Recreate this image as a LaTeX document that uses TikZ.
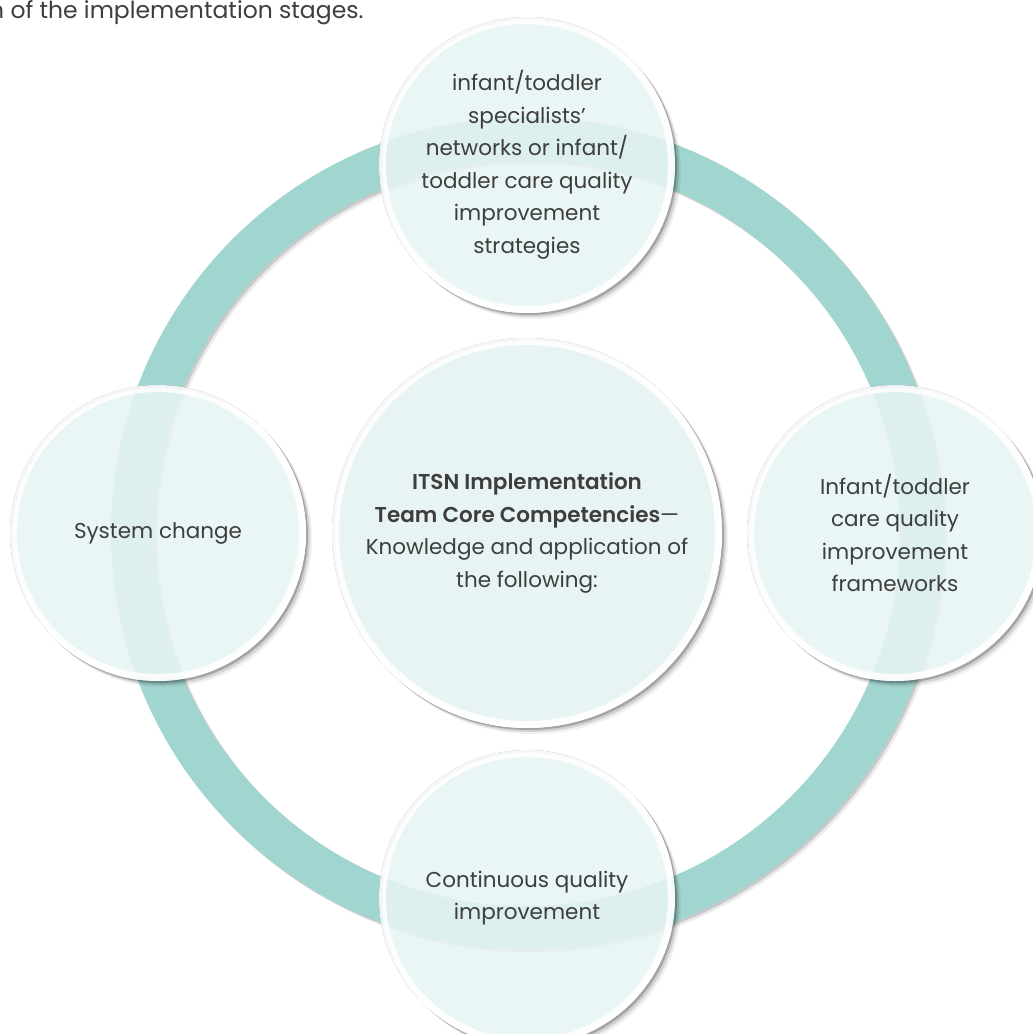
\documentclass[tikz,border=0pt]{standalone}
\usepackage{fontspec}
\setmainfont{Poppins}[BoldFont={Poppins SemiBold}]
\definecolor{ringteal}{HTML}{A1D5D0}
\definecolor{bubblefill}{HTML}{E7F4F3}
\definecolor{inktext}{HTML}{3E3E3E}

\begin{document}
\begin{tikzpicture}[x=1pt,y=-1pt,
    bubble/.style={circle, draw=white, line width=7pt, draw opacity=.9,
      fill=bubblefill, fill opacity=.87, text opacity=1, text=inktext,
      inner sep=0pt, outer sep=0pt, align=center,
      font=\fontsize{21.5}{32.5}\selectfont},
    small bubble/.style={bubble, minimum size=289pt},
    big bubble/.style={bubble, minimum size=383pt, fill opacity=1}]
    \useasboundingbox (0,0) rectangle (1033,1034);

    % caption line running off the top
    \node[anchor=base west, inner sep=0pt, text=inktext,
          font=\fontsize{23.5}{28}\selectfont] (caption) at (-11,18)
          {n of the implementation stages.};

    % centres of the five circles
    \coordinate (hub) at (527,533);
    \coordinate (top) at (527,165);
    \coordinate (rgt) at (895,533);
    \coordinate (bot) at (527,898);
    \coordinate (lft) at (158,533);

    % ring and its shadow
    \foreach \d/\o in {2/.14, 4/.08}
        \draw[black, opacity=\o, line width=43pt] ([shift={(\d,\d)}]hub) circle (394.5pt);
    \draw[ringteal, line width=43pt] (hub) circle (394.5pt);

    % soft shadows under the circles
    \foreach \c/\r in {top/148, rgt/148, bot/148, lft/148, hub/195}
        \foreach \d/\o in {2/.22, 4/.12, 6/.06}
            \fill[black, opacity=\o, even odd rule]
                ([shift={(\d,\d)}]\c) circle (\r pt) (\c) circle (\r pt);

    \node[small bubble] (netw) at (top) {infant/toddler\\ specialists’\\ networks or infant/\\ toddler care quality\\ improvement\\ strategies};
    \node[small bubble] (frame) at (rgt) {Infant/toddler\\ care quality\\ improvement\\ frameworks};
    \node[small bubble] (cqi) at (bot) {Continuous quality\\ improvement};
    \node[small bubble] (sysch) at (lft) {System change};
    \node[big bubble] (core) at (hub) {\textbf{ITSN Implementation}\\ \textbf{Team Core Competencies}—\\ Knowledge and application of\\ the following:};
\end{tikzpicture}
\end{document}
